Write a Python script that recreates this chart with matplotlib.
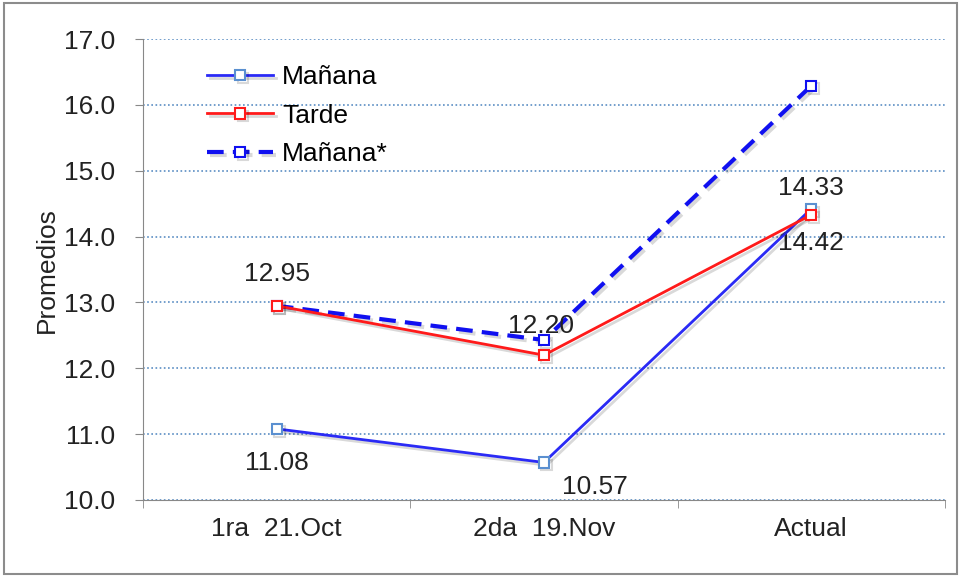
import matplotlib.pyplot as plt
import matplotlib.patheffects as pe
from matplotlib.patches import Rectangle

plt.rcParams['font.family'] = ['Liberation Sans', 'DejaVu Sans']

# Datos
categorias = ['1ra  21.Oct', '2da  19.Nov', 'Actual']
manana = [11.08, 10.57, 14.42]
tarde = [12.95, 12.20, 14.33]
manana_ast = [12.95, 12.43, 16.29]

x = range(len(categorias))
sombra = [pe.SimpleLineShadow(offset=(2, -2), alpha=0.15), pe.Normal()]

fig = plt.figure(figsize=(9.61, 5.76), dpi=100)
ax = fig.add_axes([0.149, 0.132, 0.834, 0.8])

ax.plot(x, manana_ast, color='#1010f0', lw=3, ls=(0, (4, 2.2)), marker='s', ms=7.5,
        mfc='white', mec='#1010f0', mew=1.5, label='Mañana*', zorder=3, path_effects=sombra)
ax.plot(x, manana, color='#2a2af5', lw=2, marker='s', ms=7.5,
        mfc='white', mec='#5a8fd0', mew=1.5, label='Mañana', zorder=4, path_effects=sombra)
ax.plot(x, tarde, color='#ff1a1a', lw=2, marker='s', ms=7.5,
        mfc='white', mec='#ff1a1a', mew=1.5, label='Tarde', zorder=5, path_effects=sombra)

# Etiquetas de datos
fs = 19
col = '#222222'
ax.annotate('%.2f' % tarde[0], (0, tarde[0]), xytext=(0, 14), textcoords='offset points',
            ha='center', va='bottom', fontsize=fs, color=col)
ax.annotate('%.2f' % tarde[1], (1, tarde[1]), xytext=(-2, 12), textcoords='offset points',
            ha='center', va='bottom', fontsize=fs, color=col)
ax.annotate('%.2f' % tarde[2], (2, tarde[2]), xytext=(0, 11), textcoords='offset points',
            ha='center', va='bottom', fontsize=fs, color=col)
ax.annotate('%.2f' % manana[0], (0, manana[0]), xytext=(0, -16), textcoords='offset points',
            ha='center', va='top', fontsize=fs, color=col)
ax.annotate('%.2f' % manana[1], (1, manana[1]), xytext=(37, -9), textcoords='offset points',
            ha='center', va='top', fontsize=fs, color=col)
ax.annotate('%.2f' % manana[2], (2, manana[2]), xytext=(0, -16), textcoords='offset points',
            ha='center', va='top', fontsize=fs, color=col)

ax.set_xlim(-0.5, 2.5)
ax.set_ylim(10, 17)
ax.set_yticks([10, 11, 12, 13, 14, 15, 16, 17])
ax.set_yticklabels(['%.1f' % v for v in ax.get_yticks()], fontsize=fs, color=col)
ax.set_xticks(list(x))
ax.set_xticklabels(categorias, fontsize=fs, color=col)
ax.set_xticks([-0.5, 0.5, 1.5, 2.5], minor=True)
ax.tick_params(axis='x', which='major', length=0, pad=12)
ax.tick_params(axis='x', which='minor', length=6, color='#888888')
ax.tick_params(axis='y', length=6, color='#888888', pad=14)
ax.set_ylabel('Promedios', fontsize=fs, color=col, labelpad=4)

ax.grid(axis='y', color='#5b8ec4', ls=(0, (1, 1.5)), lw=1.2)
ax.set_axisbelow(True)
for s in ['top', 'right']:
    ax.spines[s].set_visible(False)
for s in ['left', 'bottom']:
    ax.spines[s].set_color('#888888')

handles, labels = ax.get_legend_handles_labels()
orden = [1, 2, 0]
ax.legend([handles[i] for i in orden], [labels[i] for i in orden], loc='upper left',
          bbox_to_anchor=(0.05, 0.995), frameon=False, fontsize=fs, handlelength=2.5,
          handletextpad=0.35, labelspacing=0.55)

# Borde exterior
fig.patches.append(Rectangle((0.004, 0.004), 0.992, 0.99, transform=fig.transFigure,
                             fill=False, ec='#8c8c8c', lw=1.5))

fig.savefig('out.png', dpi=100)
